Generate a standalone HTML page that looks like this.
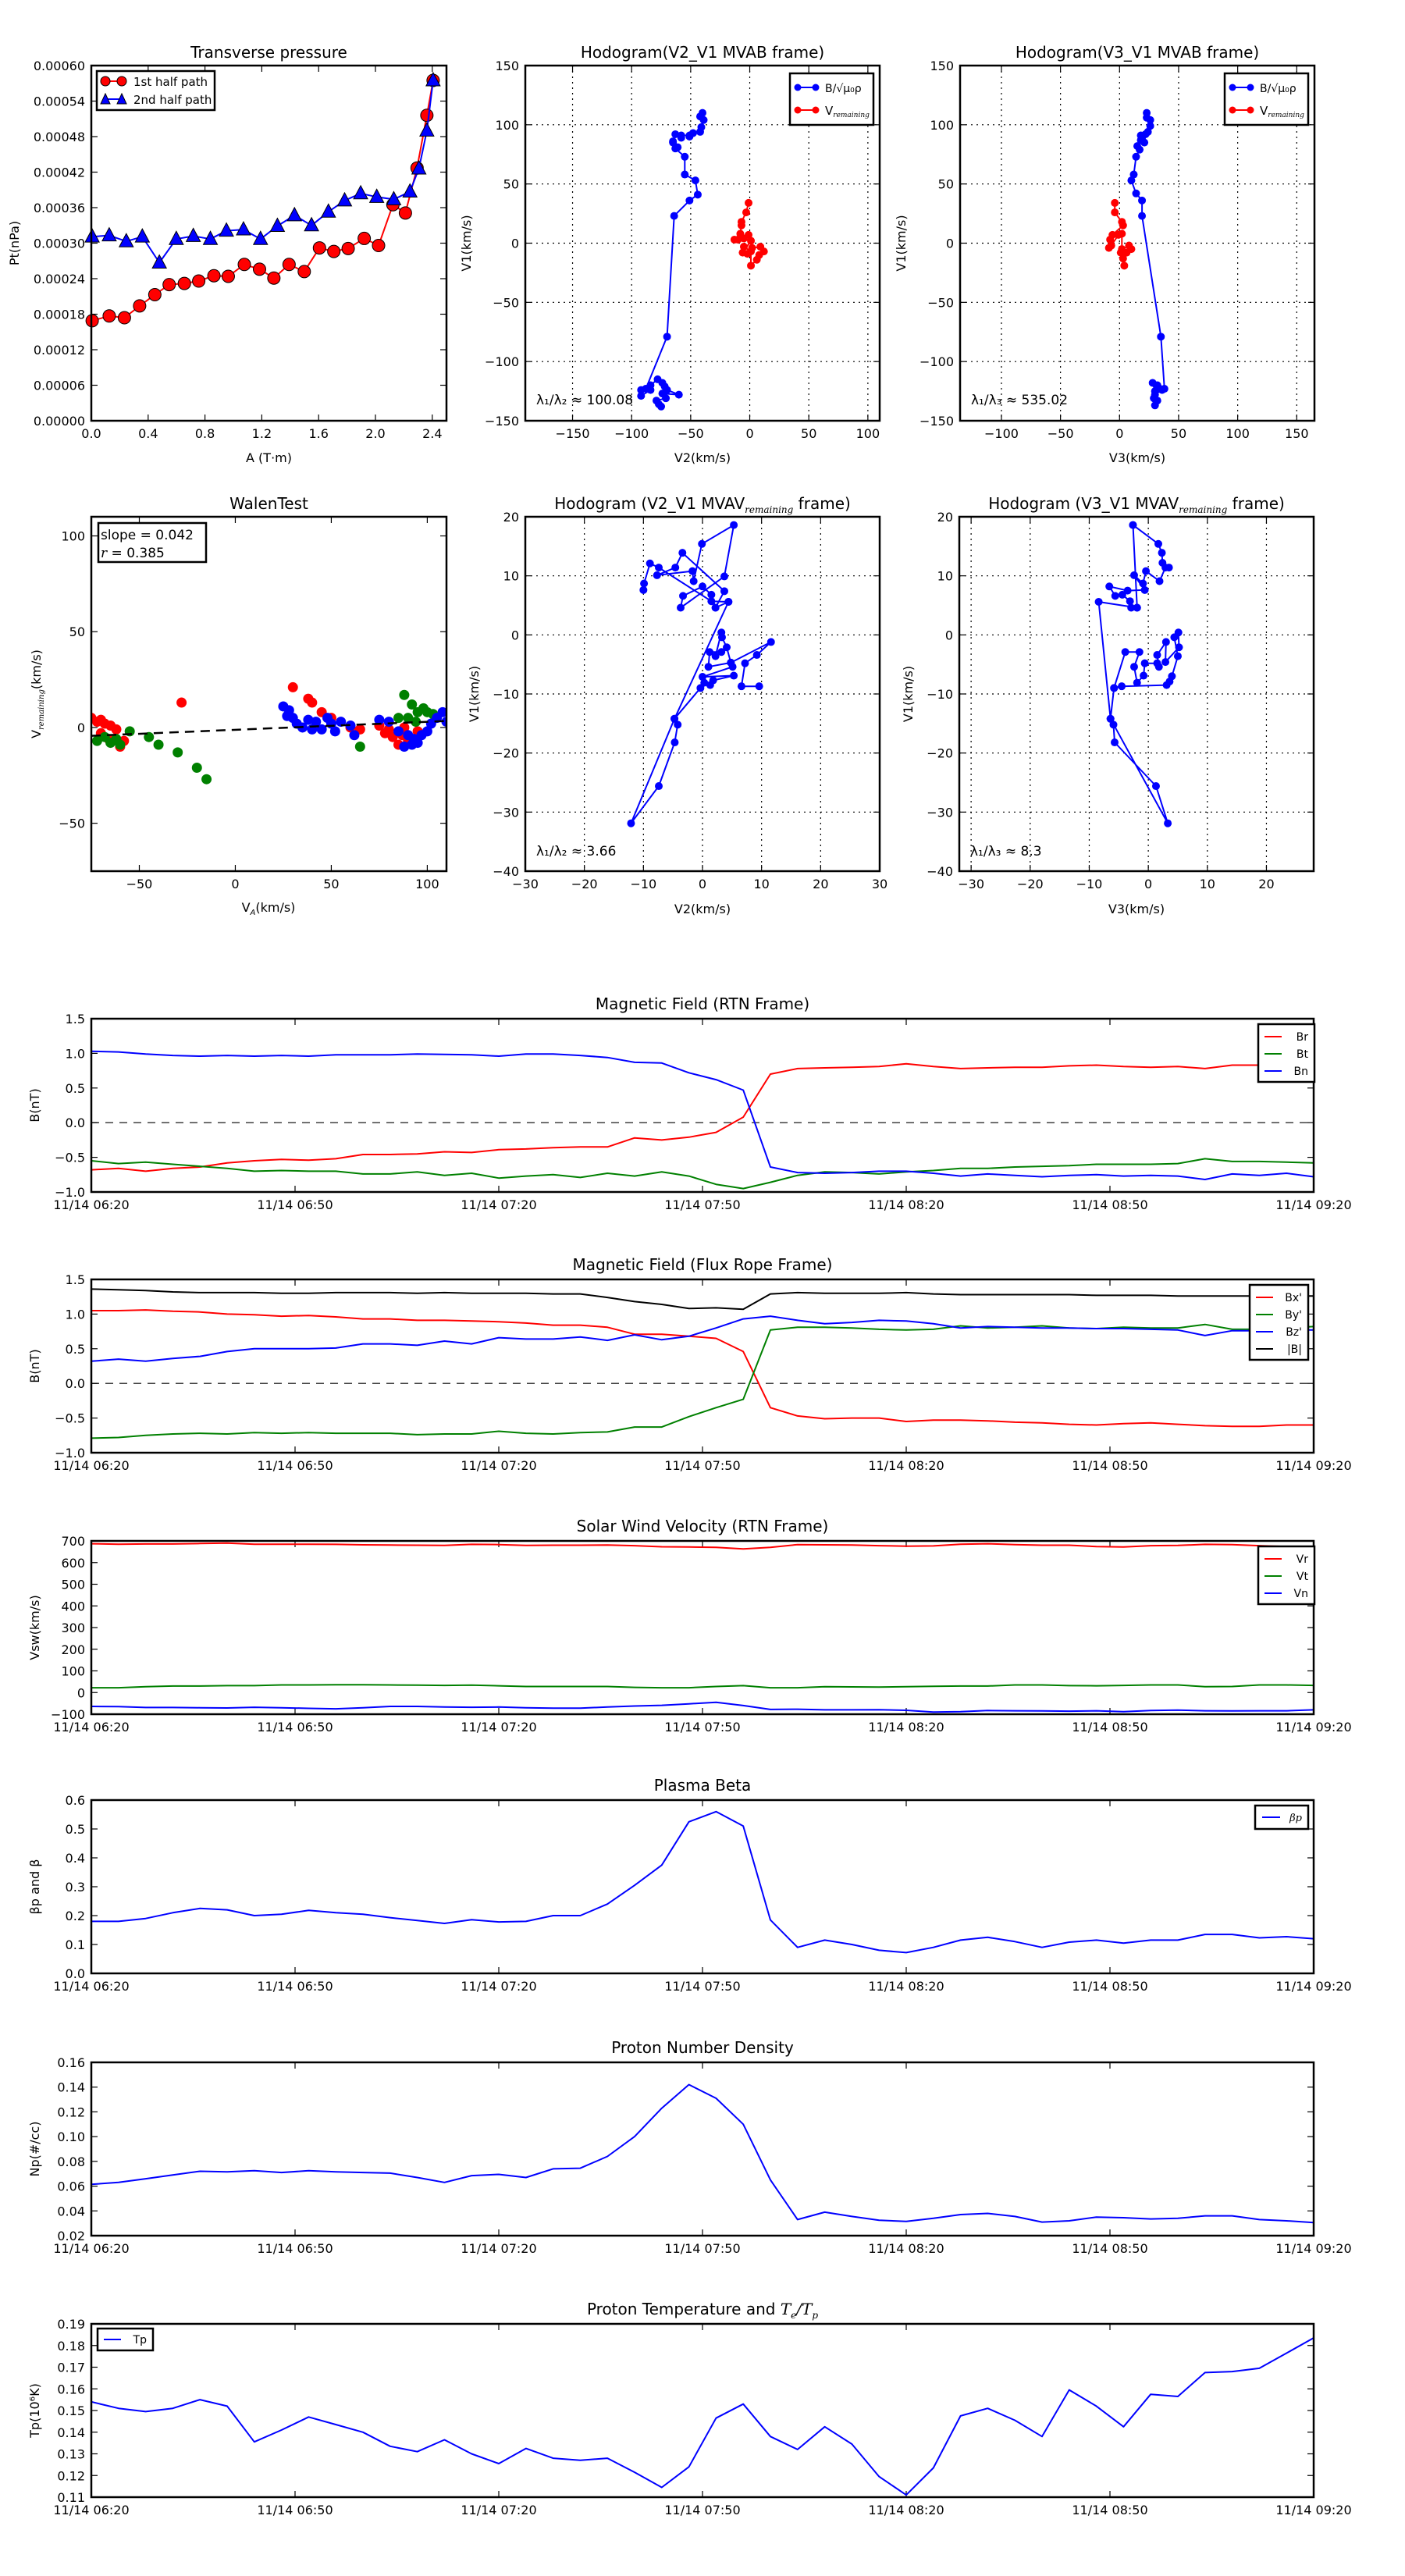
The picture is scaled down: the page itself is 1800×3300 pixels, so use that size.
<!DOCTYPE html>
<html><head><meta charset="utf-8">
<style>
html,body{margin:0;padding:0;background:#fff;}
svg{display:block;font-family:"DejaVu Sans","Liberation Sans",sans-serif;}
</style></head>
<body>
<svg id="fig" width="1800" height="3300" viewBox="0 0 1800 3300" xmlns="http://www.w3.org/2000/svg">
<rect width="1800" height="3300" fill="#fff"/>
</svg>
<script>
// ---------- data ----------
const timeLabels = ["11/14 06:20","11/14 06:50","11/14 07:20","11/14 07:50","11/14 08:20","11/14 08:50","11/14 09:20"];
const betaP = [0.18,0.18,0.19,0.21,0.225,0.22,0.20,0.205,0.218,0.21,0.205,0.193,0.183,0.173,0.186,0.178,0.18,0.20,0.20,0.24,0.305,0.375,0.525,0.56,0.51,0.185,0.09,0.115,0.10,0.08,0.072,0.09,0.115,0.125,0.11,0.09,0.108,0.115,0.105,0.115,0.115,0.135,0.135,0.123,0.127,0.12];
const np = [0.0615,0.063,0.066,0.069,0.072,0.0715,0.0725,0.071,0.0725,0.0715,0.071,0.0705,0.067,0.063,0.0685,0.0695,0.067,0.074,0.0745,0.084,0.10,0.123,0.142,0.131,0.11,0.065,0.033,0.039,0.0355,0.0325,0.0315,0.034,0.037,0.038,0.0355,0.031,0.032,0.035,0.0345,0.0335,0.034,0.036,0.036,0.033,0.032,0.0305];
const tp = [0.154,0.151,0.1495,0.151,0.155,0.152,0.1355,0.141,0.147,0.1435,0.140,0.1335,0.131,0.1365,0.130,0.1255,0.1325,0.128,0.127,0.128,0.1215,0.1145,0.124,0.1465,0.153,0.138,0.132,0.1425,0.1345,0.1195,0.111,0.1235,0.1475,0.151,0.1455,0.138,0.1595,0.152,0.1425,0.1575,0.1565,0.1675,0.168,0.1695,0.1765,0.1835];
const br = [-0.68,-0.66,-0.70,-0.66,-0.64,-0.58,-0.55,-0.53,-0.54,-0.52,-0.46,-0.46,-0.45,-0.42,-0.43,-0.39,-0.38,-0.36,-0.35,-0.35,-0.22,-0.25,-0.21,-0.14,0.08,0.70,0.78,0.79,0.80,0.81,0.85,0.81,0.78,0.79,0.80,0.80,0.82,0.83,0.81,0.80,0.81,0.78,0.83,0.83,0.83,0.82];
const bt = [-0.55,-0.59,-0.57,-0.60,-0.63,-0.66,-0.70,-0.69,-0.70,-0.70,-0.74,-0.74,-0.71,-0.76,-0.73,-0.80,-0.77,-0.75,-0.79,-0.73,-0.77,-0.71,-0.77,-0.89,-0.95,-0.86,-0.76,-0.71,-0.72,-0.74,-0.71,-0.69,-0.66,-0.66,-0.64,-0.63,-0.62,-0.60,-0.60,-0.60,-0.59,-0.52,-0.56,-0.56,-0.57,-0.58];
const bn = [1.03,1.02,0.99,0.97,0.96,0.97,0.96,0.97,0.96,0.98,0.98,0.98,0.99,0.985,0.98,0.96,0.99,0.99,0.97,0.94,0.87,0.86,0.72,0.62,0.47,-0.64,-0.72,-0.73,-0.72,-0.70,-0.70,-0.73,-0.77,-0.74,-0.76,-0.78,-0.76,-0.75,-0.77,-0.76,-0.77,-0.82,-0.74,-0.76,-0.73,-0.78];
const bx1 = [1.05,1.05,1.06,1.04,1.03,1.00,0.99,0.97,0.98,0.96,0.93,0.93,0.91,0.91,0.90,0.89,0.87,0.84,0.84,0.81,0.71,0.71,0.68,0.65,0.46,-0.35,-0.47,-0.51,-0.50,-0.50,-0.55,-0.53,-0.53,-0.54,-0.56,-0.57,-0.59,-0.60,-0.58,-0.57,-0.59,-0.61,-0.62,-0.62,-0.60,-0.60];
const by1 = [-0.79,-0.78,-0.75,-0.73,-0.72,-0.73,-0.71,-0.72,-0.71,-0.72,-0.72,-0.72,-0.74,-0.73,-0.73,-0.69,-0.72,-0.73,-0.71,-0.70,-0.63,-0.63,-0.48,-0.35,-0.23,0.77,0.81,0.81,0.80,0.78,0.77,0.78,0.83,0.80,0.81,0.83,0.80,0.79,0.81,0.80,0.80,0.85,0.78,0.78,0.80,0.82];
const bz1 = [0.32,0.35,0.32,0.36,0.39,0.46,0.50,0.50,0.50,0.51,0.57,0.57,0.55,0.61,0.57,0.66,0.64,0.64,0.67,0.62,0.70,0.63,0.68,0.80,0.93,0.97,0.91,0.86,0.88,0.91,0.90,0.86,0.80,0.82,0.81,0.80,0.80,0.79,0.79,0.78,0.77,0.69,0.76,0.76,0.77,0.77];
const bmag = [1.36,1.35,1.34,1.32,1.31,1.31,1.31,1.30,1.30,1.31,1.31,1.31,1.30,1.31,1.30,1.30,1.30,1.29,1.29,1.24,1.18,1.14,1.08,1.09,1.07,1.29,1.31,1.30,1.30,1.30,1.31,1.29,1.28,1.28,1.28,1.28,1.28,1.27,1.27,1.27,1.26,1.26,1.26,1.26,1.26,1.26];
const vr = [687,685,686,686,688,690,685,685,685,684,682,681,680,679,684,683,679,680,680,681,678,673,672,670,663,670,683,682,681,678,676,677,685,687,683,680,680,674,672,678,679,684,683,678,674,670];
const vt = [22,22,27,30,30,32,32,35,35,36,36,35,34,33,34,31,28,28,28,28,24,22,22,28,32,22,22,27,26,25,27,29,30,30,35,35,32,31,33,35,35,27,28,35,35,33];
const vn = [-64,-65,-69,-69,-70,-71,-68,-70,-73,-75,-70,-64,-64,-67,-68,-67,-70,-72,-72,-67,-62,-59,-52,-45,-60,-78,-77,-80,-80,-79,-82,-90,-88,-83,-84,-85,-86,-84,-88,-83,-81,-84,-85,-84,-84,-80];

const ptA1 = [0.006,0.126,0.233,0.340,0.447,0.548,0.655,0.756,0.863,0.964,1.077,1.184,1.285,1.392,1.499,1.606,1.707,1.808,1.921,2.022,2.123,2.211,2.293,2.362,2.406];
const ptP1 = [0.000169,0.000177,0.000174,0.000194,0.000213,0.000230,0.000232,0.000236,0.000245,0.000244,0.000264,0.000256,0.000241,0.000264,0.000252,0.000292,0.000286,0.000291,0.000308,0.000296,0.000365,0.000351,0.000427,0.000516,0.000575];
const ptA2 = [0.006,0.126,0.246,0.359,0.479,0.598,0.718,0.838,0.951,1.071,1.191,1.310,1.430,1.550,1.669,1.783,1.896,2.009,2.129,2.243,2.306,2.362,2.406];
const ptP2 = [0.000311,0.000313,0.000303,0.000311,0.000267,0.000307,0.000312,0.000307,0.000321,0.000323,0.000307,0.000329,0.000347,0.000330,0.000353,0.000372,0.000384,0.000378,0.000374,0.000387,0.000426,0.000490,0.000575];

const hb2x = [-40,-42,-39,-41,-42,-48,-51,-51,-58,-58,-63,-65,-65,-61,-63,-55,-55,-46,-44,-51,-64,-70,-88,-92,-92,-84,-84,-78,-74,-72,-70,-60,-74,-71,-79,-77,-75];
const hb2y = [110,107,104,98,94,93,90,91,91,89,92,86,85,81,80,73,58,53,41,36,23,-79,-123,-124,-129,-124,-120,-115,-118,-121,-124,-128,-127,-131,-133,-136,-138];
const hr2x = [-1,-3,-7,-7,-8,-13,-10,-1,-5,1,-6,-2,2,9,12,8,6,1,1,-5];
const hr2y = [34,26,18,15,8,3,3,7,4,2,-8,-9,-4,-3,-7,-10,-14,-19,-7,-3];
const hb3x = [23,23,26,26,24,22,18,19,21,18,15,17,14,12,10,14,19,19,35,38,33,30,28,32,36,30,29,32,30];
const hb3y = [110,106,104,99,94,92,91,88,85,87,82,79,73,58,53,42,36,23,-79,-123,-122,-125,-118,-120,-124,-128,-131,-133,-137];
const hr3x = [-4,-4,2,3,-6,-8,-9,-7,-1,2,2,8,10,6,3,4,1];
const hr3y = [34,26,18,15,7,3,-4,-2,7,8,-5,-2,-5,-8,-13,-19,-8];

const hv2x = [-10,-9.9,-8.9,-7.4,1.5,4.4,2.2,3.7,-3.4,-4.6,-7.7,-1.7,-1.5,-0.1,5.3,3.7,-3.7,-3.3,0,1.5,2.2,4.4,-4.75,-4.2,-4.7,-7.4,-12.1,-4.75,-0.35,0.3,1.3,1.8,5.3,0,5.1,4.8,4.1,3.3,3.2,2.2,3.2,1.2,1.0,4.8,11.6,9.2,7.2,6.6,9.6];
const hv2y = [7.6,8.7,12.1,11.4,5.7,5.6,4.6,7.4,13.9,11.4,10.1,10.8,9.1,15.4,18.6,9.9,4.6,6.6,8.2,6.8,4.6,5.6,-14.2,-15.2,-18.2,-25.6,-31.9,-14.2,-9.0,-8.1,-8.5,-7.7,-6.9,-7.1,-5.4,-4.7,-2.1,-0.4,0.4,-3.6,-2.9,-2.9,-5.4,-4.7,-1.2,-3.4,-4.8,-8.7,-8.7];
const hv3x = [-2.6,1.7,2.3,2.4,3.5,2.9,1.9,-0.4,-0.9,-2.4,-0.6,-3.5,-6.6,-5.6,-4.4,-3.1,-2.9,-1.9,-2.6,-1.9,-8.4,-6.4,-5.9,-5.7,1.3,3.3,-6.4,-5.8,-3.9,-1.5,-2.4,-1.9,-0.8,-0.6,1.5,1.8,1.5,3.0,2.9,5.2,5.1,4.4,5.0,4.0,3.6,3.1,-4.5,-5.8];
const hv3y = [18.6,15.4,13.9,12.2,11.4,11.4,9.1,10.8,8.7,10.1,7.6,7.5,8.2,6.6,6.8,5.7,4.6,4.6,18.6,4.6,5.6,-14.2,-15.2,-18.2,-25.6,-31.9,-14.2,-9.0,-2.9,-2.9,-5.4,-8.1,-6.9,-4.8,-4.8,-5.4,-3.4,-1.2,-4.6,-2.1,0.4,-0.4,-3.6,-7.0,-7.9,-8.5,-8.7,-9.0];

const walenRedX = [-75,-72,-70,-68,-65,-62,-70,-66,-60,-58,-28,30,38,40,45,50,60,65,75,80,82,85,87,90,78,95,88];
const walenRedY = [5,3,4,2,1,-1,-3,-6,-10,-7,13,21,15,13,8,5,0,-1,1,-1,-5,-9,-4,-7,-3,-2,0];
const walenGreenX = [-72,-68,-65,-62,-60,-55,-45,-40,-30,-20,-15,65,88,90,92,95,98,100,103,85,94];
const walenGreenY = [-7,-5,-8,-6,-9,-2,-5,-9,-13,-21,-27,-10,17,5,12,8,10,8,7,5,3];
const walenBlueX = [25,28,30,27,32,35,38,40,42,45,48,50,52,55,60,62,75,80,85,90,93,95,97,100,102,105,108,110,88,92];
const walenBlueY = [11,9,5,6,2,0,4,-1,3,-1,5,2,-2,3,1,-4,4,3,-2,-4,-6,-8,-4,-2,2,5,8,3,-10,-9];
const walenSlope = 0.042;
const walenIntercept = -1.2;

// ---------- helpers ----------
const NS = "http://www.w3.org/2000/svg";
const fig = document.getElementById("fig");
function mk(tag, parent, attrs) {
  const el = document.createElementNS(NS, tag);
  for (const k in attrs) el.setAttribute(k, attrs[k]);
  (parent || fig).appendChild(el);
  return el;
}
function txt(parent, x, y, s, size, anchor, extra) {
  const t = mk("text", parent, Object.assign({x: x, y: y, "font-size": size, "text-anchor": anchor || "middle", fill: "#000"}, extra || {}));
  t.textContent = s;
  return t;
}
function fmtMinus(s) { return String(s).replace("-", "\u2212"); }

function makeAxes(name, x0, y0, w, h, xmin, xmax, ymin, ymax) {
  const g = mk("g", fig, {});
  
  
  const sx = v => x0 + (v - xmin) / (xmax - xmin) * w;
  const sy = v => y0 + h - (v - ymin) / (ymax - ymin) * h;
  return {g, sx, sy, x0, y0, w, h};
}
function frame(ax) {
  const r = mk("rect", ax.g, {x: ax.x0, y: ax.y0, width: ax.w, height: ax.h, fill: "none", stroke: "#000", "stroke-width": 2.5});
  
  
}
function xTicks(ax, vals, labels, grid) {
  const g = mk("g", ax.g, {});
  
  
  vals.forEach((v, i) => {
    const x = ax.sx(v);
    if (grid) mk("line", g, {x1: x, y1: ax.y0, x2: x, y2: ax.y0 + ax.h, stroke: "#000", "stroke-width": 1.2, "stroke-dasharray": "2,5"});
    mk("line", g, {x1: x, y1: ax.y0 + ax.h, x2: x, y2: ax.y0 + ax.h - 8, stroke: "#000", "stroke-width": 1.2});
    mk("line", g, {x1: x, y1: ax.y0, x2: x, y2: ax.y0 + 8, stroke: "#000", "stroke-width": 1.2});
    txt(g, x, ax.y0 + ax.h + 22, fmtMinus(labels[i]), 16);
  });
}
function yTicks(ax, vals, labels, grid) {
  const g = mk("g", ax.g, {});
  
  
  vals.forEach((v, i) => {
    const y = ax.sy(v);
    if (grid) mk("line", g, {x1: ax.x0, y1: y, x2: ax.x0 + ax.w, y2: y, stroke: "#000", "stroke-width": 1.2, "stroke-dasharray": "2,5"});
    mk("line", g, {x1: ax.x0, y1: y, x2: ax.x0 + 8, y2: y, stroke: "#000", "stroke-width": 1.2});
    mk("line", g, {x1: ax.x0 + ax.w, y1: y, x2: ax.x0 + ax.w - 8, y2: y, stroke: "#000", "stroke-width": 1.2});
    txt(g, ax.x0 - 8, y + 6, fmtMinus(labels[i]), 16, "end");
  });
}
function title(ax, s, dy) {
  const t = txt(ax.g, ax.x0 + ax.w / 2, ax.y0 - (dy || 10), s, 20);
  
  
  return t;
}
function ylabel(ax, s, x) {
  const cy = ax.y0 + ax.h / 2;
  const t = txt(ax.g, x, cy, s, 16, "middle", {transform: "rotate(-90 " + x + " " + cy + ")"});
  
  
  return t;
}
function xlabel(ax, s, y) {
  const t = txt(ax.g, ax.x0 + ax.w / 2, y, s, 16);
  
  
  return t;
}
function clip(ax, id) {
  const cp = mk("clipPath", ax.g, {id: id});
  mk("rect", cp, {x: ax.x0, y: ax.y0, width: ax.w, height: ax.h});
  return "url(#" + id + ")";
}
function line(ax, xs, ys, color, name, cl, width) {
  const pts = xs.map((x, i) => ax.sx(x).toFixed(1) + "," + ax.sy(ys[i]).toFixed(1)).join(" ");
  const p = mk("polyline", ax.g, {points: pts, fill: "none", stroke: color, "stroke-width": width || 2, "clip-path": cl || "", "stroke-linejoin": "round"});
  
  
  return p;
}
function dots(ax, xs, ys, color, r, name, cl, stroke) {
  const g = mk("g", ax.g, {"clip-path": cl || ""});
  
  
  xs.forEach((x, i) => {
    mk("circle", g, {cx: ax.sx(x), cy: ax.sy(ys[i]), r: r, fill: color, stroke: stroke || "none", "stroke-width": 1});
  });
  return g;
}
function legendBox(parent, x, y, w, h, name) {
  const g = mk("g", parent, {});
  
  
  mk("rect", g, {x: x, y: y, width: w, height: h, fill: "#fff", stroke: "#000", "stroke-width": 2.5});
  return g;
}

// ---------- Transverse pressure ----------
{
  const ax = makeAxes("transverse-pressure-chart", 117, 84, 455, 455, 0, 2.5, 0, 0.0006);
  xTicks(ax, [0,0.4,0.8,1.2,1.6,2.0,2.4], ["0.0","0.4","0.8","1.2","1.6","2.0","2.4"]);
  yTicks(ax, [0,0.00006,0.00012,0.00018,0.00024,0.0003,0.00036,0.00042,0.00048,0.00054,0.0006], ["0.00000","0.00006","0.00012","0.00018","0.00024","0.00030","0.00036","0.00042","0.00048","0.00054","0.00060"]);
  const cl = clip(ax, "c1");
  line(ax, ptA1, ptP1, "#f00", "first-half-path-line", "", 2);
  dots(ax, ptA1, ptP1, "#f00", 8, "first-half-path-markers", "", "#000");
  line(ax, ptA2, ptP2, "#00f", "second-half-path-line", "", 2);
  const tg = mk("g", ax.g, {});
  
  
  ptA2.forEach((a, i) => {
    const x = ax.sx(a), y = ax.sy(ptP2[i]);
    mk("polygon", tg, {points: `${x},${y-10} ${x-9},${y+7} ${x+9},${y+7}`, fill: "#00f", stroke: "#000", "stroke-width": 1});
  });
  frame(ax);
  const lg = legendBox(ax.g, 124, 91, 151, 50, "pressure-legend");
  mk("line", lg, {x1: 134, y1: 104, x2: 157, y2: 104, stroke: "#f00", "stroke-width": 2});
  mk("circle", lg, {cx: 135, cy: 104, r: 6, fill: "#f00", stroke: "#000"});
  mk("circle", lg, {cx: 156, cy: 104, r: 6, fill: "#f00", stroke: "#000"});
  txt(lg, 171, 110, "1st half path", 15, "start");
  mk("line", lg, {x1: 134, y1: 127, x2: 157, y2: 127, stroke: "#00f", "stroke-width": 2});
  mk("polygon", lg, {points: "135,120 129,133 141,133", fill: "#00f", stroke: "#000"});
  mk("polygon", lg, {points: "156,120 150,133 162,133", fill: "#00f", stroke: "#000"});
  txt(lg, 171, 133, "2nd half path", 15, "start");
  title(ax, "Transverse pressure");
  ylabel(ax, "Pt(nPa)", 24);
  xlabel(ax, "A (T\u00b7m)", 592);
}

// ---------- MVAB hodograms ----------
function hodoMVAB(name, x0, xmin, xmax, xtv, bx, by, rx, ry, ttl, xl, lam, cid) {
  const ax = makeAxes(name, x0, 84, 454, 455, xmin, xmax, -150, 150);
  xTicks(ax, xtv, xtv.map(String), true);
  yTicks(ax, [-150,-100,-50,0,50,100,150], ["-150","-100","-50","0","50","100","150"], true);
  const cl = clip(ax, cid);
  line(ax, bx, by, "#00f", "b-alfven-path", cl, 2);
  dots(ax, bx, by, "#00f", 5, "b-alfven-markers", cl);
  line(ax, rx, ry, "#f00", "v-remaining-path", cl, 2);
  dots(ax, rx, ry, "#f00", 5, "v-remaining-markers", cl);
  frame(ax);
  const lg = legendBox(ax.g, x0 + 339, 94, 107, 66, "hodogram-legend");
  mk("line", lg, {x1: x0 + 349, y1: 112, x2: x0 + 372, y2: 112, stroke: "#00f", "stroke-width": 2});
  mk("circle", lg, {cx: x0 + 349, cy: 112, r: 4.5, fill: "#00f"});
  mk("circle", lg, {cx: x0 + 372, cy: 112, r: 4.5, fill: "#00f"});
  txt(lg, x0 + 384, 118, "B/\u221A\u03BC\u2080\u03C1", 14, "start");
  mk("line", lg, {x1: x0 + 349, y1: 141, x2: x0 + 372, y2: 141, stroke: "#f00", "stroke-width": 2});
  mk("circle", lg, {cx: x0 + 349, cy: 141, r: 4.5, fill: "#f00"});
  mk("circle", lg, {cx: x0 + 372, cy: 141, r: 4.5, fill: "#f00"});
  const t = txt(lg, x0 + 384, 147, "V", 15, "start");
  const ts = mk("tspan", t, {"font-size": 9, dy: 3, "font-style": "italic", "font-family": "DejaVu Serif, serif"});
  ts.textContent = "remaining";
  const la = txt(ax.g, x0 + 14, 518, lam, 17, "start");
  
  
  title(ax, ttl);
  ylabel(ax, "V1(km/s)", x0 - 70);
  xlabel(ax, xl, 592);
}
hodoMVAB("hodogram-v2-v1-mvab", 673, -190, 110, [-150,-100,-50,0,50,100], hb2x, hb2y, hr2x, hr2y, "Hodogram(V2_V1 MVAB frame)", "V2(km/s)", "\u03BB\u2081/\u03BB\u2082 \u2248 100.08", "c2");
hodoMVAB("hodogram-v3-v1-mvab", 1230, -135, 165, [-100,-50,0,50,100,150], hb3x, hb3y, hr3x, hr3y, "Hodogram(V3_V1 MVAB frame)", "V3(km/s)", "\u03BB\u2081/\u03BB\u2083 \u2248 535.02", "c3");

// ---------- Walen test ----------
{
  const ax = makeAxes("walen-test-chart", 117, 662, 455, 454, -75, 110, -75, 110);
  xTicks(ax, [-50,0,50,100], ["-50","0","50","100"]);
  yTicks(ax, [-50,0,50,100], ["-50","0","50","100"]);
  const cl = clip(ax, "c4");
  dots(ax, walenRedX, walenRedY, "#f00", 6.5, "walen-points-red", cl);
  dots(ax, walenGreenX, walenGreenY, "#008000", 6.5, "walen-points-green", cl);
  dots(ax, walenBlueX, walenBlueY, "#00f", 6.5, "walen-points-blue", cl);
  const fx = [-75, 110];
  const fy = fx.map(v => walenSlope * v + walenIntercept);
  const fl = line(ax, fx, fy, "#000", "walen-fit-line", cl, 2.5);
  fl.setAttribute("stroke-dasharray", "12,8");
  frame(ax);
  const lg = legendBox(ax.g, 126, 670, 138, 50, "walen-stats-box");
  txt(lg, 129, 691, "slope = 0.042", 17, "start");
  const t2 = txt(lg, 129, 714, "", 17, "start");
  const it = mk("tspan", t2, {"font-style": "italic", "font-family": "DejaVu Serif, serif"}); it.textContent = "r";
  const rest = mk("tspan", t2, {}); rest.textContent = " = 0.385";
  title(ax, "WalenTest");
  const cy = 889;
  const yl = txt(ax.g, 52, cy, "V", 16, "middle", {transform: "rotate(-90 52 " + cy + ")"});
  const sub = mk("tspan", yl, {"font-size": 10, dy: 4, "font-style": "italic", "font-family": "DejaVu Serif, serif"}); sub.textContent = "remaining";
  const un = mk("tspan", yl, {dy: -4}); un.textContent = "(km/s)";
  
  const xl = txt(ax.g, 344, 1168, "V", 16);
  const xs = mk("tspan", xl, {"font-size": 10, dy: 4, "font-style": "italic"}); xs.textContent = "A";
  const xu = mk("tspan", xl, {dy: -4}); xu.textContent = "(km/s)";
  
}

// ---------- MVAV hodograms ----------
function hodoMVAV(name, x0, xmin, xmax, xtv, xs, ys, ttl, xl, lam, cid) {
  const ax = makeAxes(name, x0, 662, 454, 454, xmin, xmax, -40, 20);
  xTicks(ax, xtv, xtv.map(String), true);
  yTicks(ax, [-40,-30,-20,-10,0,10,20], ["-40","-30","-20","-10","0","10","20"], true);
  const cl = clip(ax, cid);
  line(ax, xs, ys, "#00f", "hodogram-path", cl, 2);
  dots(ax, xs, ys, "#00f", 5, "hodogram-markers", cl);
  frame(ax);
  const la = txt(ax.g, x0 + 14, 1096, lam, 17, "start");
  
  
  const t = title(ax, "", 10);
  const a = mk("tspan", t, {}); a.textContent = ttl;
  const b = mk("tspan", t, {"font-size": 12, dy: 5, "font-style": "italic", "font-family": "DejaVu Serif, serif"}); b.textContent = "remaining";
  const c = mk("tspan", t, {dy: -5}); c.textContent = " frame)";
  ylabel(ax, "V1(km/s)", x0 - 60);
  xlabel(ax, xl, 1170);
}
hodoMVAV("hodogram-v2-v1-mvav", 673, -30, 30, [-30,-20,-10,0,10,20,30], hv2x, hv2y, "Hodogram (V2_V1 MVAV", "V2(km/s)", "\u03BB\u2081/\u03BB\u2082 \u2248 3.66", "c5");
hodoMVAV("hodogram-v3-v1-mvav", 1229, -32, 28, [-30,-20,-10,0,10,20], hv3x, hv3y, "Hodogram (V3_V1 MVAV", "V3(km/s)", "\u03BB\u2081/\u03BB\u2083 \u2248 8.3", "c6");

// ---------- Time series ----------
const minutes = betaP.map((_, i) => i * 4);
function tsPanel(name, top, ymin, ymax, ytv, ylab, ttl, series, cid, zeroLine) {
  const ax = makeAxes(name, 117, top, 1566, 222, 0, 180, ymin, ymax);
  xTicks(ax, [0,30,60,90,120,150,180], timeLabels);
  yTicks(ax, ytv, ytv.map(v => v.toFixed(ylab.dec)));
  const cl = clip(ax, cid);
  if (zeroLine) {
    const z = mk("line", ax.g, {x1: ax.x0, x2: ax.x0 + ax.w, y1: ax.sy(0), y2: ax.sy(0), stroke: "#000", "stroke-width": 1.2, "stroke-dasharray": "10,8"});
    
    
  }
  series.forEach(s => line(ax, minutes, s.v, s.c, s.n, cl, 2));
  frame(ax);
  if (ttl) title(ax, ttl, 12);
  ylabel(ax, ylab.t, 50);
  return ax;
}
function seriesLegend(ax, x, y, w, items) {
  const lg = legendBox(ax.g, x, y, w, items.length * 22 + 8, "series-legend");
  items.forEach((it, i) => {
    const yy = y + 16 + i * 22;
    mk("line", lg, {x1: x + 8, x2: x + 30, y1: yy, y2: yy, stroke: it.c, "stroke-width": 2});
    txt(lg, x + w - 8, yy + 5, it.n, 14, "end");
  });
}
{
  const ax = tsPanel("magnetic-field-rtn-chart", 1305, -1, 1.5, [-1,-0.5,0,0.5,1,1.5], {t: "B(nT)", dec: 1}, "Magnetic Field (RTN Frame)",
    [{v: br, c: "#f00", n: "br-line"}, {v: bt, c: "#008000", n: "bt-line"}, {v: bn, c: "#00f", n: "bn-line"}], "c7", true);
  seriesLegend(ax, 1612, 1312, 72, [{c: "#f00", n: "Br"}, {c: "#008000", n: "Bt"}, {c: "#00f", n: "Bn"}]);
}
{
  const ax = tsPanel("magnetic-field-flux-rope-chart", 1639, -1, 1.5, [-1,-0.5,0,0.5,1,1.5], {t: "B(nT)", dec: 1}, "Magnetic Field (Flux Rope Frame)",
    [{v: bx1, c: "#f00", n: "bx-prime-line"}, {v: by1, c: "#008000", n: "by-prime-line"}, {v: bz1, c: "#00f", n: "bz-prime-line"}, {v: bmag, c: "#000", n: "b-magnitude-line"}], "c8", true);
  seriesLegend(ax, 1601, 1646, 75, [{c: "#f00", n: "Bx'"}, {c: "#008000", n: "By'"}, {c: "#00f", n: "Bz'"}, {c: "#000", n: "|B|"}]);
}
{
  const ax = tsPanel("solar-wind-velocity-chart", 1974, -100, 700, [-100,0,100,200,300,400,500,600,700], {t: "Vsw(km/s)", dec: 0}, "Solar Wind Velocity (RTN Frame)",
    [{v: vr, c: "#f00", n: "vr-line"}, {v: vt, c: "#008000", n: "vt-line"}, {v: vn, c: "#00f", n: "vn-line"}], "c9", false);
  seriesLegend(ax, 1612, 1981, 72, [{c: "#f00", n: "Vr"}, {c: "#008000", n: "Vt"}, {c: "#00f", n: "Vn"}]);
}
{
  const ax = tsPanel("plasma-beta-chart", 2306, 0, 0.6, [0,0.1,0.2,0.3,0.4,0.5,0.6], {t: "\u03B2p and \u03B2", dec: 1}, "Plasma Beta",
    [{v: betaP, c: "#00f", n: "beta-p-line"}], "c10", false);
  const lg = legendBox(ax.g, 1608, 2313, 68, 30, "beta-legend");
  mk("line", lg, {x1: 1617, x2: 1640, y1: 2328, y2: 2328, stroke: "#00f", "stroke-width": 2});
  txt(lg, 1668, 2333, "\u03B2p", 13, "end", {"font-style": "italic", "font-family": "DejaVu Serif, serif"});
}
tsPanel("proton-density-chart", 2642, 0.02, 0.16, [0.02,0.04,0.06,0.08,0.10,0.12,0.14,0.16], {t: "Np(#/cc)", dec: 2}, "Proton Number Density",
  [{v: np, c: "#00f", n: "np-line"}], "c11", false);
{
  const ax = tsPanel("proton-temperature-chart", 2977, 0.11, 0.19, [0.11,0.12,0.13,0.14,0.15,0.16,0.17,0.18,0.19], {t: "Tp(10\u2076K)", dec: 2}, null,
    [{v: tp, c: "#00f", n: "tp-line"}], "c12", false);
  const t = title(ax, "Proton Temperature and ", 12);
  const a = mk("tspan", t, {"font-style": "italic", "font-family": "DejaVu Serif, serif"}); a.textContent = "T";
  const b = mk("tspan", t, {"font-size": 12, dy: 5, "font-style": "italic", "font-family": "DejaVu Serif, serif"}); b.textContent = "e";
  const c = mk("tspan", t, {dy: -5, "font-style": "italic", "font-family": "DejaVu Serif, serif"}); c.textContent = "/T";
  const d = mk("tspan", t, {"font-size": 12, dy: 5, "font-style": "italic", "font-family": "DejaVu Serif, serif"}); d.textContent = "p";
  const lg = legendBox(ax.g, 125, 2983, 71, 28, "tp-legend");
  mk("line", lg, {x1: 133, x2: 155, y1: 2997, y2: 2997, stroke: "#00f", "stroke-width": 2});
  txt(lg, 188, 3002, "Tp", 14, "end");
}
</script>
</body></html>
